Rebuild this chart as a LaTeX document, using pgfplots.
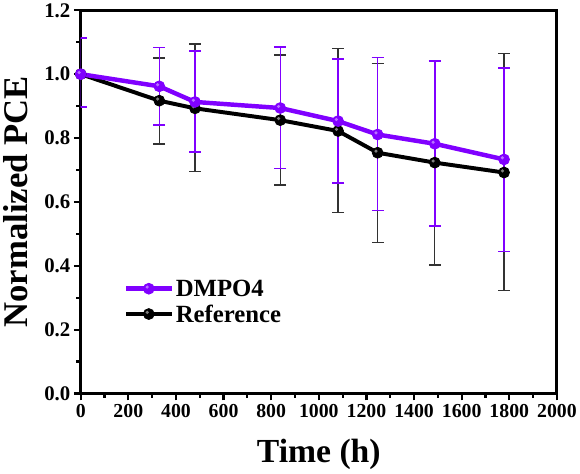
\documentclass[border=0pt]{standalone}
\usepackage{pgfplots}
\pgfplotsset{compat=1.18}
\usepackage{fontspec}
\setmainfont{Liberation Serif}
\usetikzlibrary{plotmarks}
\definecolor{vio}{RGB}{128,0,255}
\definecolor{ebgray}{RGB}{50,50,50}
\pgfdeclareplotmark{ballv}{%
  \pgfsetfillcolor{vio}\pgfsetstrokecolor{vio}%
  \pgfpathcircle{\pgfpointorigin}{\pgfplotmarksize}\pgfusepathqfillstroke
  \pgfsetfillcolor{vio!55!white}%
  \pgfpathcircle{\pgfpoint{-0.3\pgfplotmarksize}{0.3\pgfplotmarksize}}{0.32\pgfplotmarksize}\pgfusepathqfill}
\pgfdeclareplotmark{ballk}{%
  \pgfsetfillcolor{black}\pgfsetstrokecolor{black}%
  \pgfpathcircle{\pgfpointorigin}{\pgfplotmarksize}\pgfusepathqfillstroke
  \pgfsetfillcolor{black!50!white}%
  \pgfpathcircle{\pgfpoint{-0.3\pgfplotmarksize}{0.3\pgfplotmarksize}}{0.32\pgfplotmarksize}\pgfusepathqfill}
\begin{document}
\begin{tikzpicture}
\begin{axis}[
  scale only axis,
  width=481pt, height=387pt,
  xmin=0, xmax=2000, ymin=0, ymax=1.2,
  xtick={0,200,...,2000},
  ytick={0,0.2,...,1.2},
  minor x tick num=1, minor y tick num=1,
  xtick pos=bottom, ytick pos=left,
  tick align=outside,
  major tick length=7pt, minor tick length=4.5pt,
  every tick/.style={black, line width=2.2pt},
  axis line style={line width=3pt},
  /pgf/number format/assume math mode=true,
  x tick label style={font=\fontsize{20}{20}\selectfont\bfseries, /pgf/number format/1000 sep={}},
  y tick label style={font=\fontsize{21}{21}\selectfont\bfseries, /pgf/number format/fixed, /pgf/number format/fixed zerofill, /pgf/number format/precision=1},
  xlabel={Time (h)},
  ylabel={Normalized PCE},
  xlabel style={font=\fontsize{34}{34}\selectfont\bfseries, at={(axis description cs:0.5,-0.16)}, anchor=center},
  ylabel style={font=\fontsize{35}{35}\selectfont\bfseries, at={(axis description cs:-0.137,0.5)}, anchor=center},
  legend style={at={(rel axis cs:0.088,0.305)}, anchor=north west, draw=none, fill=none,
    font=\fontsize{25}{25}\selectfont\bfseries, row sep=3pt, inner sep=1pt},
  legend cell align=left,
  legend image code/.code={\draw[mark repeat=2,mark phase=2,#1] plot coordinates {(0pt,0pt) (23pt,0pt) (46pt,0pt)};},
]
\addlegendimage{vio, line width=4.5pt, mark=ballv, mark size=5.5pt, mark options={line width=0.8pt}}
\addlegendentry{DMPO4}
\addlegendimage{black, line width=4pt, mark=ballk, mark size=5.5pt, mark options={line width=0.8pt}}
\addlegendentry{Reference}
% Reference
\addplot[black, line width=4pt, mark=ballk, mark size=5.5pt, mark options={line width=0.8pt},
  error bars/.cd, y dir=both, y explicit,
  error bar style={ebgray, line width=1.3pt},
  error mark options={rotate=90, mark size=6pt, line width=1.5pt, ebgray}] coordinates {
  (0,1.0) +- (0,0)
  (330,0.917) += (0,0.133) -= (0,0.135)
  (480,0.893) += (0,0.202) -= (0,0.197)
  (838,0.856) += (0,0.204) -= (0,0.203)
  (1081,0.822) += (0,0.259) -= (0,0.255)
  (1247,0.754) += (0,0.280) -= (0,0.281)
  (1487,0.723) += (0,0.318) -= (0,0.321)
  (1778,0.692) += (0,0.372) -= (0,0.369)
};
% DMPO4
\addplot[vio, line width=4.5pt, mark=ballv, mark size=5.5pt, mark options={line width=0.8pt},
  error bars/.cd, y dir=both, y explicit,
  error bar style={vio, line width=1.5pt},
  error mark options={rotate=90, mark size=6pt, line width=1.6pt, vio}] coordinates {
  (0,1.0) += (0,0.114) -= (0,0.102)
  (330,0.962) += (0,0.121) -= (0,0.121)
  (480,0.913) += (0,0.159) -= (0,0.157)
  (838,0.894) += (0,0.191) -= (0,0.189)
  (1081,0.853) += (0,0.194) -= (0,0.193)
  (1247,0.811) += (0,0.241) -= (0,0.238)
  (1487,0.782) += (0,0.259) -= (0,0.257)
  (1778,0.733) += (0,0.287) -= (0,0.288)
};
\end{axis}
\end{tikzpicture}
\end{document}
